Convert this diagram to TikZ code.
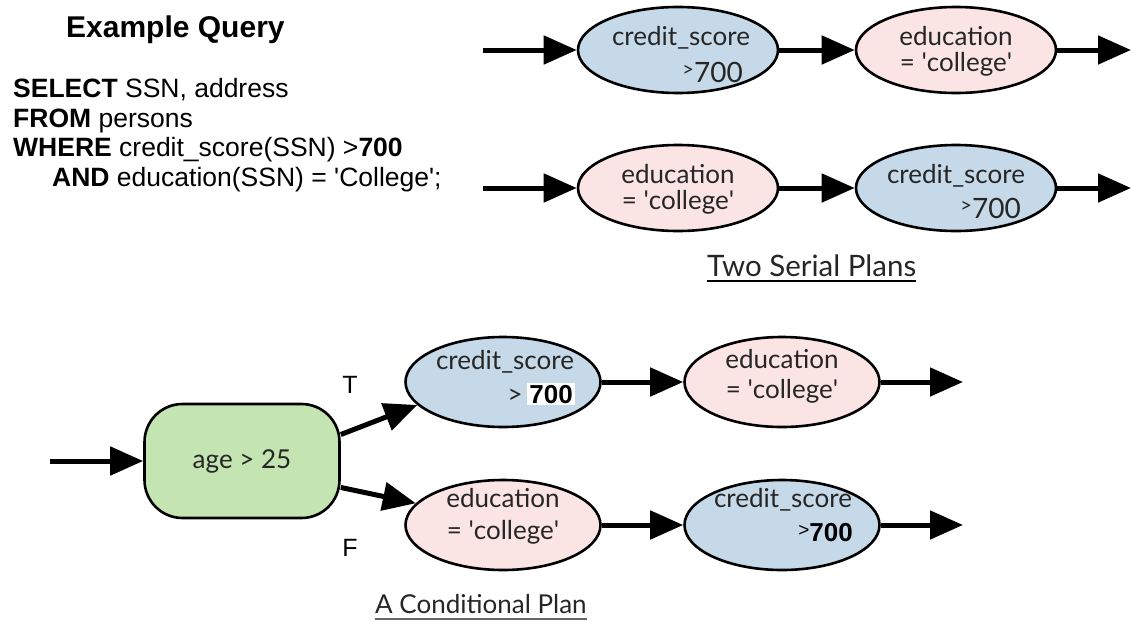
\documentclass[tikz,border=0pt]{standalone}
\usepackage{fontspec}
\setmainfont{Liberation Sans}
\newfontfamily\gill{Lato}
\usetikzlibrary{shapes.geometric,arrows.meta,calc}
\definecolor{bluefill}{HTML}{C6D9E8}
\definecolor{pinkfill}{HTML}{FBE4E4}
\definecolor{greenfill}{HTML}{C4E4B2}
\definecolor{txt}{HTML}{262626}
\begin{document}
\begin{tikzpicture}[x=1pt,y=-1pt,
  oval/.style={ellipse, draw=black, line width=2.6pt, minimum width=200pt, minimum height=86pt, inner sep=0pt},
  lowoval/.style={oval, minimum width=195pt, minimum height=90pt},
  blueoval/.style={fill=bluefill},
  pinkoval/.style={fill=pinkfill},
  flow/.style={line width=5pt, -{Triangle[length=33pt,width=28pt]}},
  lbl/.style={font=\gill\fontsize{26}{26}\selectfont, text=txt, inner sep=0pt},
  numlbl/.style={font=\gill\fontsize{28}{28}\selectfont, text=txt, inner sep=0pt},
  boldnum/.style={font=\fontsize{26}{26}\selectfont\bfseries, text=black, inner sep=0pt},
  sql/.style={font=\fontsize{26.5}{26.5}\selectfont, anchor=base west, inner sep=0pt},
  caption/.style={font=\gill\fontsize{29.5}{29.5}\selectfont, anchor=base west, inner sep=0pt, text=black!85},
  tf/.style={font=\fontsize{25}{25}\selectfont, inner sep=0pt}
]
\useasboundingbox (0,0) rectangle (1132,621);

% ---------- query ----------
\node[anchor=base west, inner sep=0pt, font=\fontsize{30}{30}\selectfont\bfseries] (title) at (66,37) {Example Query};
\node[sql] (q1) at (13,97) {\textbf{SELECT} SSN, address};
\node[sql] (q2) at (13,127) {\textbf{FROM} persons};
\node[sql] (q3) at (13,156) {\textbf{WHERE} credit\_score(SSN) >\textbf{700}};
\node[sql] (q4) at (52,186) {\textbf{AND} education(SSN) = \textquotesingle College\textquotesingle;};

% ---------- two serial plans ----------
\node[oval, blueoval] (e1) at (678,50) {};
\node[oval, pinkoval] (e2) at (956,50) {};
\node[oval, pinkoval] (e3) at (678,188) {};
\node[oval, blueoval] (e4) at (956,188) {};

\node[lbl, anchor=base] (e1a) at (681,45) {credit\_score};
\node[numlbl, anchor=base east] (e1b) at (743,82) {\raisebox{6pt}{\fontsize{20}{20}\selectfont>}700};
\node[lbl, anchor=base] (e2a) at (956,45) {education};
\node[lbl, anchor=base] (e2b) at (956,71) {= \textquotesingle college\textquotesingle};
\node[lbl, anchor=base] (e3a) at (678,183) {education};
\node[lbl, anchor=base] (e3b) at (678,209) {= \textquotesingle college\textquotesingle};
\node[lbl, anchor=base] (e4a) at (956,183) {credit\_score};
\node[numlbl, anchor=base east] (e4b) at (1021,218) {\raisebox{6pt}{\fontsize{20}{20}\selectfont>}700};

\coordinate (in1) at (483,50);
\coordinate (out1) at (1131,50);
\coordinate (in2) at (483,188);
\coordinate (out2) at (1131,188);
\draw[flow] (in1) -- (e1);
\draw[flow] (e1) -- (e2);
\draw[flow] (e2) -- (out1);
\draw[flow] (in2) -- (e3);
\draw[flow] (e3) -- (e4);
\draw[flow] (e4) -- (out2);

\node[caption] (cap1) at (707,276) {Two Serial Plans};
\draw[line width=1.8pt] ($(cap1.base west)+(0,5)$) -- ($(cap1.base east)+(0,5)$);

% ---------- conditional plan ----------
\node[draw=black, line width=2.6pt, fill=greenfill, rounded corners=38pt, minimum width=195pt, minimum height=114pt, font=\gill\fontsize{26}{26}\selectfont, text=txt] (cond) at (242,461) {age > 25};

\node[oval, lowoval, blueoval] (b1) at (503,382) {};
\node[oval, lowoval, pinkoval] (b2) at (503,525) {};
\node[oval, lowoval, pinkoval] (b3) at (782,382) {};
\node[oval, lowoval, blueoval] (b4) at (782,525) {};

\node[lbl, anchor=base] (b1a) at (505,369) {credit\_score};
\node[boldnum, anchor=base east, fill=white, inner sep=2pt] (b1c) at (575,403) {700};
\node[lbl, anchor=base east] (b1b) at (b1c.base west) {>\,};
\node[lbl, anchor=base] (b2a) at (503,507) {education};
\node[lbl, anchor=base] (b2b) at (503,539) {= \textquotesingle college\textquotesingle};
\node[lbl, anchor=base] (b3a) at (782,368) {education};
\node[lbl, anchor=base] (b3b) at (782,398) {= \textquotesingle college\textquotesingle};
\node[lbl, anchor=base] (b4a) at (783,507) {credit\_score};
\node[boldnum, anchor=base east] (b4b) at (853,541) {\raisebox{5pt}{\fontsize{19}{19}\selectfont\mdseries>}700};

\coordinate (in3) at (50,461);
\coordinate (out3) at (963,382);
\coordinate (out4) at (963,525);
\draw[flow] (in3) -- (cond);
\draw[flow] (cond.15) -- (b1.195);
\draw[flow] (cond.-15) -- (b2.166);
\draw[flow] (b1) -- (b3);
\draw[flow] (b3) -- (out3);
\draw[flow] (b2) -- (b4);
\draw[flow] (b4) -- (out4);

\node[tf] (T) at (350,385) {T};
\node[tf] (F) at (350,548) {F};

\node[caption, font=\gill\fontsize{26}{26}\selectfont] (cap2) at (375,613) {A Conditional Plan};
\draw[line width=1.5pt, black!60] ($(cap2.base west)+(0,6)$) -- ($(cap2.base east)+(0,6)$);
\end{tikzpicture}
\end{document}
